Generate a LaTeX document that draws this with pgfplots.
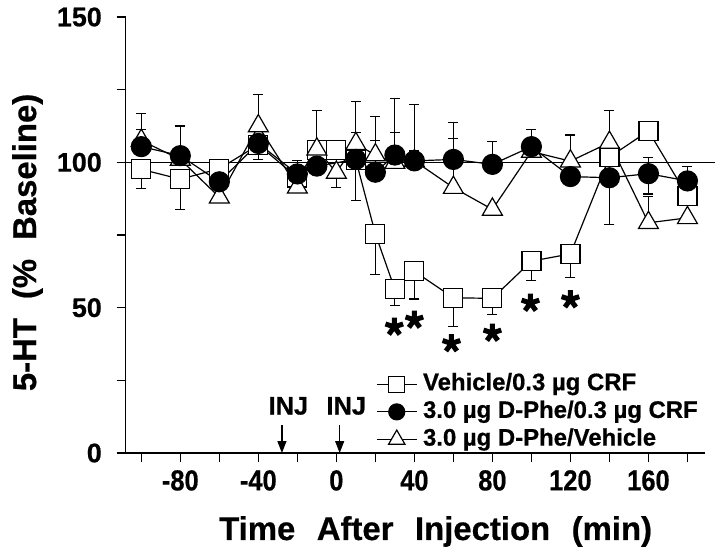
\documentclass[border=0pt]{standalone}
\usepackage{fontspec}
\setmainfont{Liberation Sans}[UprightFont=* Bold, FakeBold=0.6]
\newfontfamily\condfont{Liberation Sans}[UprightFont=* Bold, FakeStretch=0.88, FakeBold=0.6]
\usepackage{pgfplots}
\pgfplotsset{compat=1.18}
\usepackage{pgfplotstable}
\usetikzlibrary{arrows.meta}

% heavy five-armed asterisk used for the significance marks
\pgfdeclareplotmark{ast5}{%
  \pgfsetlinewidth{5bp}\pgfsetbuttcap
  \pgfpathmoveto{\pgfpointorigin}\pgfpathlineto{\pgfpointpolar{90}{9.3bp}}%
  \pgfpathmoveto{\pgfpointorigin}\pgfpathlineto{\pgfpointpolar{162}{9.3bp}}%
  \pgfpathmoveto{\pgfpointorigin}\pgfpathlineto{\pgfpointpolar{234}{9.3bp}}%
  \pgfpathmoveto{\pgfpointorigin}\pgfpathlineto{\pgfpointpolar{306}{9.3bp}}%
  \pgfpathmoveto{\pgfpointorigin}\pgfpathlineto{\pgfpointpolar{18}{9.3bp}}%
  \pgfusepathqstroke}

% Vehicle/0.3 ug CRF (open squares)
\pgfplotstableread{
x y ep em
-100 97.6 0 6.6
-80 94.2 0 10.5
-60 97.8 0 0
-40 106 0 0
-20 94.8 0 0
-10 104.2 13.5 0
0 104.2 0 0
10 100.8 0 14
20 75.4 0 14
30 56.3 0 5.6
40 62.5 0 9.5
60 53.4 0 9.8
80 53.2 0 5.6
100 66 0 6.6
120 68.5 0 8
140 101.8 0 0
160 110.8 0 0
180 88.4 0 0
}\sqdata

% 3.0 ug D-Phe/0.3 ug CRF (filled circles)
\pgfplotstableread{
x y ep em
-100 105.4 6 0
-80 102.3 10.2 0
-60 93.3 0 0
-40 106.5 0 5.5
-20 96 4.5 0
-10 98.7 0 0
10 101 9.2 0
20 96.6 10.9 0
30 102.5 19.5 0
40 100.5 19.5 0
60 101 12.7 0
80 99.3 8 0
100 105.4 6 0
120 95.1 0 0
140 94.7 0 16
160 96.1 5.7 7
180 93.6 5 0
}\circdata

% 3.0 ug D-Phe/Vehicle (open triangles)
\pgfplotstableread{
x y ep em
-100 107.5 9.3 0
-80 101 0 0
-60 88 0 0
-40 112.5 10.7 0
-20 91.4 0 0
-10 104.5 0 0
0 96.5 0 5.2
10 106.4 14.6 0
20 102.5 13.2 0
30 99.9 10.5 0
40 100.5 3.4 0
60 91.3 17 0
80 83.8 0 0
100 103.7 0 0
120 100.4 9 0
140 106.8 11 0
160 79.2 9 0
180 80.9 0 0
}\tridata

% positions of the significance asterisks
\pgfplotstableread{
x y
29.7 43.4
40 45.8
59 37.7
80 41.3
99.5 51.6
120 52.8
}\astdata

\begin{document}
\begin{tikzpicture}
\useasboundingbox (-125.7bp,-97bp) rectangle (594.3bp,453bp);
\begin{axis}[
  scale only axis, width=579.3bp, height=436bp,
  xmin=-108, xmax=189, ymin=0, ymax=150,
  axis x line*=bottom, axis y line*=left,
  axis line style={line width=1.4pt},
  xtick={-80,-40,0,40,80,120,160},
  minor xtick={-100,-60,-20,20,60,100,140,180},
  ytick={0,50,100,150}, minor ytick={25,75,125},
  tick align=outside, major tick length=9bp, minor tick length=9bp,
  every tick/.style={black, line width=1.2pt},
  /pgf/number format/assume math mode=true,
  xticklabel={\condfont\fontsize{29}{29}\selectfont\pgfmathprintnumber{\tick}},
  yticklabel={\fontsize{27}{27}\selectfont\pgfmathprintnumber{\tick}},
  xticklabel style={anchor=north, inner sep=0pt},
  yticklabel style={anchor=east, inner sep=0pt},
  xticklabel shift=8bp,
  yticklabel shift=14.7bp,
  xlabel={Time\hspace{21.5bp}After\hspace{21.5bp}Injection\hspace{21.5bp}(min)},
  ylabel={5-HT\hspace{19bp}(\%\hspace{19bp}Baseline)},
  xlabel style={at={(rel axis cs:0.535,-0.1995)}, anchor=base, inner sep=0pt, font=\fontsize{33}{33}\selectfont},
  ylabel style={at={(rel axis cs:-0.1548,0.483)}, anchor=base, inner sep=0pt, font=\fontsize{33}{33}\selectfont},
  clip=false,
  legend style={at={(rel axis cs:0.432,0.1858)}, anchor=north west, draw=none, fill=none, inner sep=0pt,
    font=\fontsize{24}{24}\selectfont, row sep=3.7bp,
    nodes={inner sep=0pt, text height=18bp, text depth=6bp},
    /tikz/every odd column/.append style={column sep=5.7bp}},
  legend cell align=left,
  legend image code/.code={\draw[#1] (0bp,0bp) -- (40bp,0bp); \draw[#1] plot coordinates {(20bp,0bp)};},
]
% reference line at 100 %
\addplot[black, line width=1pt, forget plot] coordinates {(-108,100) (194,100)};

\addplot[black, line width=1.2pt, mark=square*, mark size=9.5bp, mark options={fill=white, solid}, forget plot,
  error bars/.cd, y dir=both, y explicit, error bar style={line width=1.2pt},
  error mark options={rotate=90, mark size=5bp, line width=1.2pt}]
  table[x=x, y=y, y error plus=ep, y error minus=em] {\sqdata};

\addplot[black, line width=1.2pt, mark=triangle*, mark size=11.5bp, mark options={fill=white, solid}, forget plot,
  error bars/.cd, y dir=both, y explicit, error bar style={line width=1.2pt},
  error mark options={rotate=90, mark size=5bp, line width=1.2pt}]
  table[x=x, y=y, y error plus=ep, y error minus=em] {\tridata};

\addplot[black, line width=1.2pt, mark=*, mark size=10bp, mark options={fill=black, solid}, forget plot,
  error bars/.cd, y dir=both, y explicit, error bar style={line width=1.2pt},
  error mark options={rotate=90, mark size=5bp, line width=1.2pt}]
  table[x=x, y=y, y error plus=ep, y error minus=em] {\circdata};

% significance asterisks
\addplot[only marks, mark=ast5, black, forget plot] table[x=x, y=y] {\astdata};

\addlegendimage{black, line width=1.2pt, mark=square*, mark size=8bp, mark options={fill=white}}
\addlegendentry{Vehicle/0.3 µg CRF}
\addlegendimage{black, line width=1.2pt, mark=*, mark size=8bp, mark options={fill=black}}
\addlegendentry{3.0 µg D-Phe/0.3 µg CRF}
\addlegendimage{black, line width=1.2pt, mark=triangle*, mark size=9.5bp, mark options={fill=white}}
\addlegendentry{3.0 µg D-Phe/Vehicle}

% injection markers
\node[font=\fontsize{25.5}{25.5}\selectfont, inner sep=0pt] at (axis cs:-24.6,16.2) {INJ};
\node[font=\fontsize{25.5}{25.5}\selectfont, inner sep=0pt] at (axis cs:5.1,16.2) {INJ};
\draw[line width=1.2pt, -{Triangle[width=9bp,length=12bp]}] (axis cs:-27.9,9.6) -- (axis cs:-27.9,0);
\draw[line width=1.2pt, -{Triangle[width=9bp,length=12bp]}] (axis cs:1.7,9.6) -- (axis cs:1.7,0);
\end{axis}
\end{tikzpicture}
\end{document}
